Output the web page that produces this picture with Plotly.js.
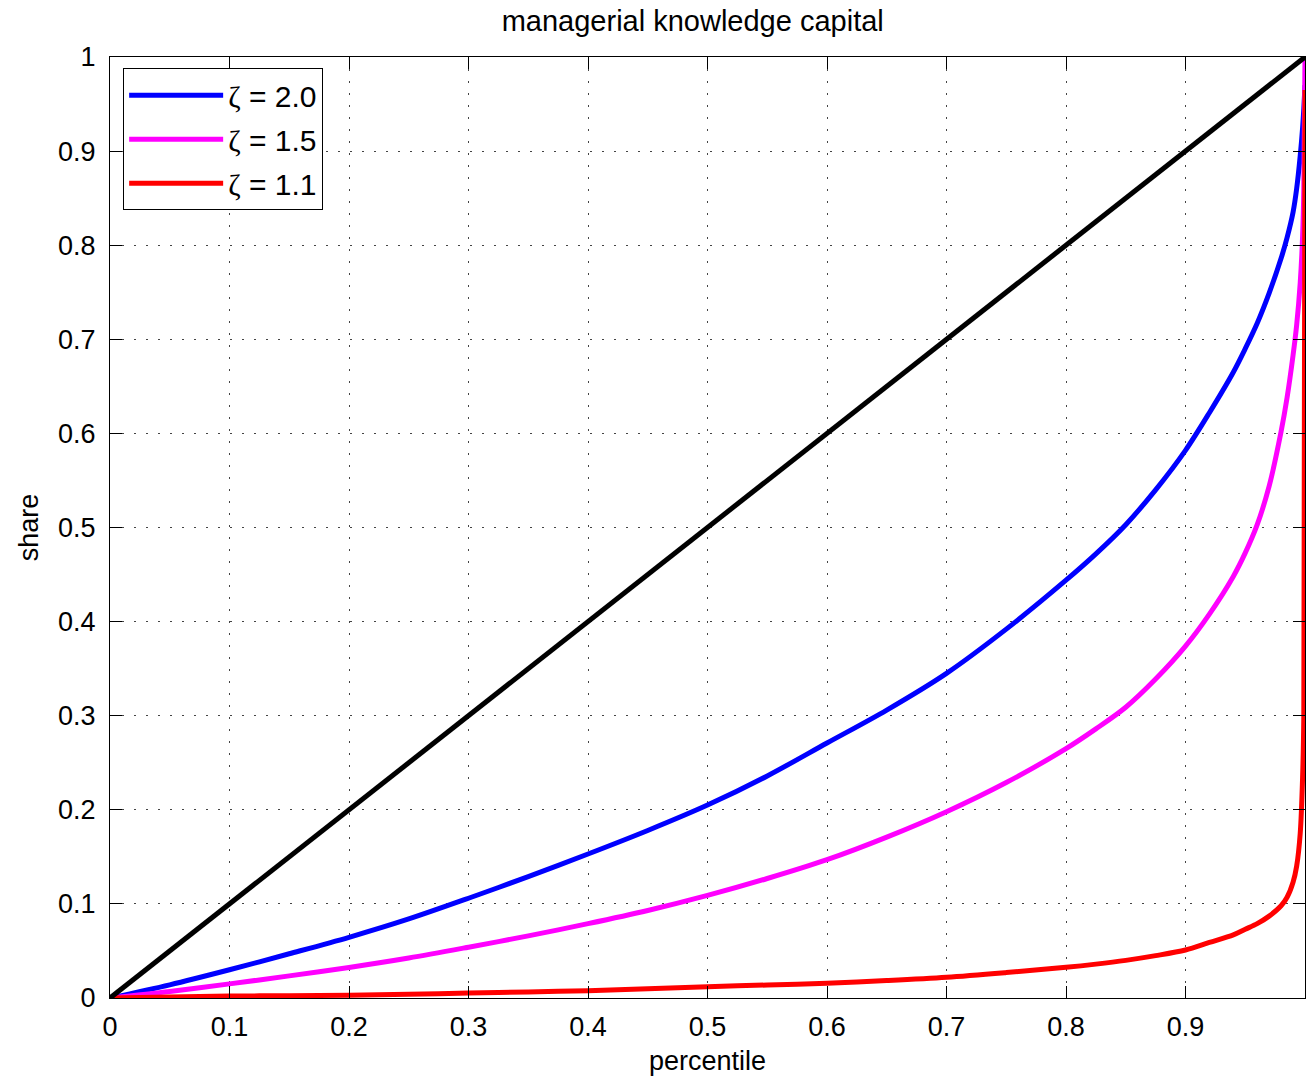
<!DOCTYPE html>
<html>
<head>
<meta charset="utf-8">
<script src="https://cdn.plot.ly/plotly-3.0.1.min.js"></script>
<style>
html,body{margin:0;padding:0;background:#fff;}
#chart{width:1312px;height:1081px;}
</style>
</head>
<body>
<div id="chart"></div>
<script>
// percentile grid (x values)
const percentile = [0, 0.05, 0.1, 0.15, 0.2, 0.25, 0.3, 0.35, 0.4, 0.45, 0.5, 0.55, 0.6, 0.65, 0.7, 0.75, 0.8, 0.825, 0.85, 0.875, 0.9, 0.92, 0.94, 0.95, 0.96, 0.97, 0.98, 0.985, 0.99, 0.993, 0.996, 0.998, 0.999, 1.0];

// share
const shareZeta20 = [0, 0.014, 0.030, 0.047, 0.0645, 0.084, 0.106, 0.129, 0.153, 0.178, 0.205, 0.236, 0.271, 0.306, 0.345, 0.392, 0.444, 0.472, 0.503, 0.540, 0.582, 0.622, 0.665, 0.690, 0.717, 0.749, 0.786, 0.808, 0.835, 0.86, 0.895, 0.925, 0.945, 0.97];
const shareZeta15 = [0, 0.007, 0.015, 0.0235, 0.0325, 0.0425, 0.054, 0.066, 0.079, 0.093, 0.109, 0.127, 0.147, 0.171, 0.198, 0.229, 0.265, 0.286, 0.309, 0.339, 0.374, 0.408, 0.448, 0.473, 0.503, 0.544, 0.602, 0.638, 0.683, 0.715, 0.76, 0.81, 0.86, 1.0];
const shareZeta11 = [0, 0.001, 0.002, 0.0025, 0.003, 0.004, 0.0052, 0.0064, 0.0078, 0.0098, 0.012, 0.0138, 0.0156, 0.0185, 0.022, 0.027, 0.0326, 0.036, 0.040, 0.045, 0.051, 0.059, 0.067, 0.073, 0.079, 0.087, 0.098, 0.107, 0.123, 0.14, 0.175, 0.235, 0.30, 0.965];
const equality = [0, 1];

const seriesNames = ['ζ = 2.0', 'ζ = 1.5', 'ζ = 1.1'];
const seriesColors = ['#0000ff', '#ff00ff', '#ff0000'];

const tickVals = [0, 0.1, 0.2, 0.3, 0.4, 0.5, 0.6, 0.7, 0.8, 0.9, 1];
const tickText = ['0', '0.1', '0.2', '0.3', '0.4', '0.5', '0.6', '0.7', '0.8', '0.9', '1'];

const FONT = 'Liberation Sans, Arial, Helvetica, sans-serif';
const FS = 27;
const legendLabel = s => s.replace('ζ', "<span style=\"font-family:'Liberation Serif',serif\">ζ</span>");

const series = [shareZeta20, shareZeta15, shareZeta11];
const traces = series.map((ys, i) => ({
  x: percentile, y: ys, type: 'scatter', mode: 'lines',
  name: legendLabel(seriesNames[i]), legendgroup: 'g' + i,
  line: {color: seriesColors[i], width: 5, shape: 'spline', smoothing: 0.9},
  hoverinfo: 'skip'
}));
traces.push({
  x: equality, y: equality, type: 'scatter', mode: 'lines',
  line: {color: '#000000', width: 5}, showlegend: false, hoverinfo: 'skip'
});

const axisCommon = {
  range: [0, 1], tickvals: tickVals, ticktext: tickText,
  ticks: 'inside', ticklen: 12, tickwidth: 1, tickcolor: '#000',
  showline: true, linecolor: '#000', linewidth: 1, mirror: 'ticks',
  showgrid: true, gridcolor: '#444', gridwidth: 1, griddash: '2px,10px',
  zeroline: false, tickfont: {family: FONT, size: FS, color: '#000'},
  fixedrange: true
};

const layout = {
  width: 1312, height: 1081,
  margin: {l: 110, r: 7, t: 57, b: 83},
  paper_bgcolor: '#fff', plot_bgcolor: '#fff',
  font: {family: FONT, size: FS, color: '#000'},
  title: {text: 'managerial knowledge capital', font: {family: FONT, size: 29, color: '#000'},
          x: 0.528, xanchor: 'center', y: 0.981, yanchor: 'middle'},
  xaxis: Object.assign({}, axisCommon, {
    title: {text: 'percentile', font: {family: FONT, size: FS, color: '#000'}, standoff: 9},
    ticklabelstandoff: 5
  }),
  yaxis: Object.assign({}, axisCommon, {
    title: {text: 'share', font: {family: FONT, size: FS, color: '#000'}, standoff: 11},
    ticklabelstandoff: 8
  }),
  showlegend: true,
  legend: {
    x: 0.011, y: 0.988, xanchor: 'left', yanchor: 'top',
    bgcolor: '#fff', bordercolor: '#000', borderwidth: 1,
    font: {family: FONT, size: 30, color: '#000'},
    itemwidth: 94, tracegroupgap: 2
  }
};

Plotly.newPlot('chart', traces, layout, {staticPlot: true, displayModeBar: false});
</script>
</body>
</html>
